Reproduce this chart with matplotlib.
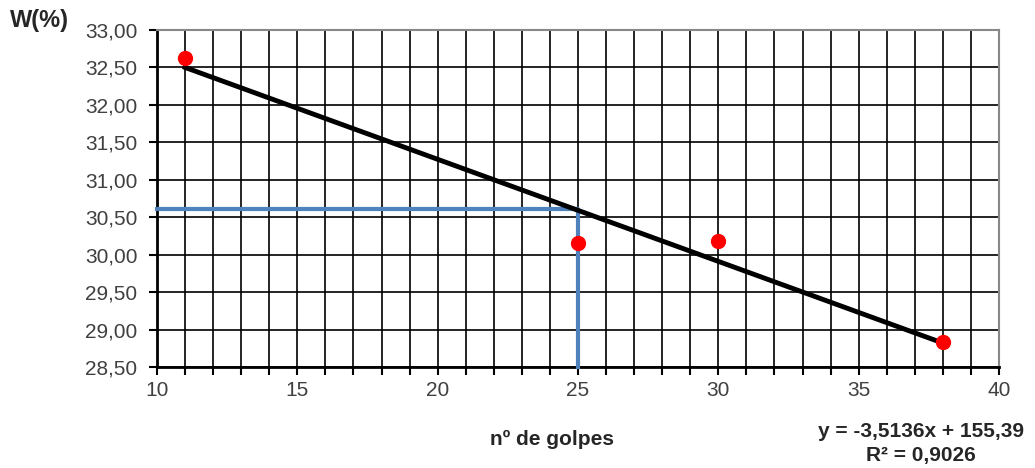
import numpy as np
import matplotlib.pyplot as plt
from matplotlib.ticker import MultipleLocator, FuncFormatter

plt.rcParams['font.family'] = ['Liberation Sans', 'DejaVu Sans']

# data
golpes = [11, 25, 30, 38]
humedad = [32.63, 30.16, 30.18, 28.83]
trend_x = [11, 38]
trend_y = [32.50, 28.82]
ll_x = 25
ll_y = 30.61

fig = plt.figure(figsize=(10.35, 4.68), dpi=100)
ax = fig.add_axes([0.1517, 0.2158, 0.8135, 0.7201])

ax.set_xlim(10, 40)
ax.set_ylim(28.5, 33.0)
ax.xaxis.set_major_locator(MultipleLocator(5))
ax.xaxis.set_minor_locator(MultipleLocator(1))
ax.yaxis.set_major_locator(MultipleLocator(0.5))
ax.yaxis.set_major_formatter(FuncFormatter(lambda v, p: f'{v:.2f}'.replace('.', ',')))

ax.grid(True, which='both', axis='x', color='black', lw=1.2)
ax.grid(True, which='major', axis='y', color='black', lw=1.2)
ax.set_axisbelow(True)

ax.tick_params(which='both', direction='out', width=1.5, color='black')
ax.tick_params(which='major', length=6, labelsize=15, labelcolor='#404040')
ax.tick_params(which='minor', length=6)
ax.tick_params(axis='x', pad=4)
ax.tick_params(axis='y', pad=8)

for s in ['left', 'bottom']:
    ax.spines[s].set_linewidth(2)
    ax.spines[s].set_color('black')
for s in ['top', 'right']:
    ax.spines[s].set_linewidth(1.5)
    ax.spines[s].set_color('#888888')

# blue guide lines at 25 golpes
ax.plot([10, ll_x, ll_x], [ll_y, ll_y, 28.5], color='#4f81bd', lw=3, zorder=3, clip_on=False)

ax.plot(trend_x, trend_y, color='black', lw=3.5, zorder=4)
ax.plot(golpes, humedad, 'o', color='#ff0000', ms=10, zorder=5)

fig.text(0.038, 0.957, 'W(%)', fontsize=17, fontweight='bold', ha='center', va='center', color='#262626')
fig.text(0.533, 0.060, 'nº de golpes', fontsize=15, fontweight='bold', ha='center', va='center', color='#262626')
fig.text(0.890, 0.077, 'y = -3,5136x + 155,39', fontsize=15, fontweight='bold', ha='center', va='center', color='#262626')
fig.text(0.890, 0.027, 'R² = 0,9026', fontsize=15, fontweight='bold', ha='center', va='center', color='#262626')

fig.savefig('out.png', dpi=100)
